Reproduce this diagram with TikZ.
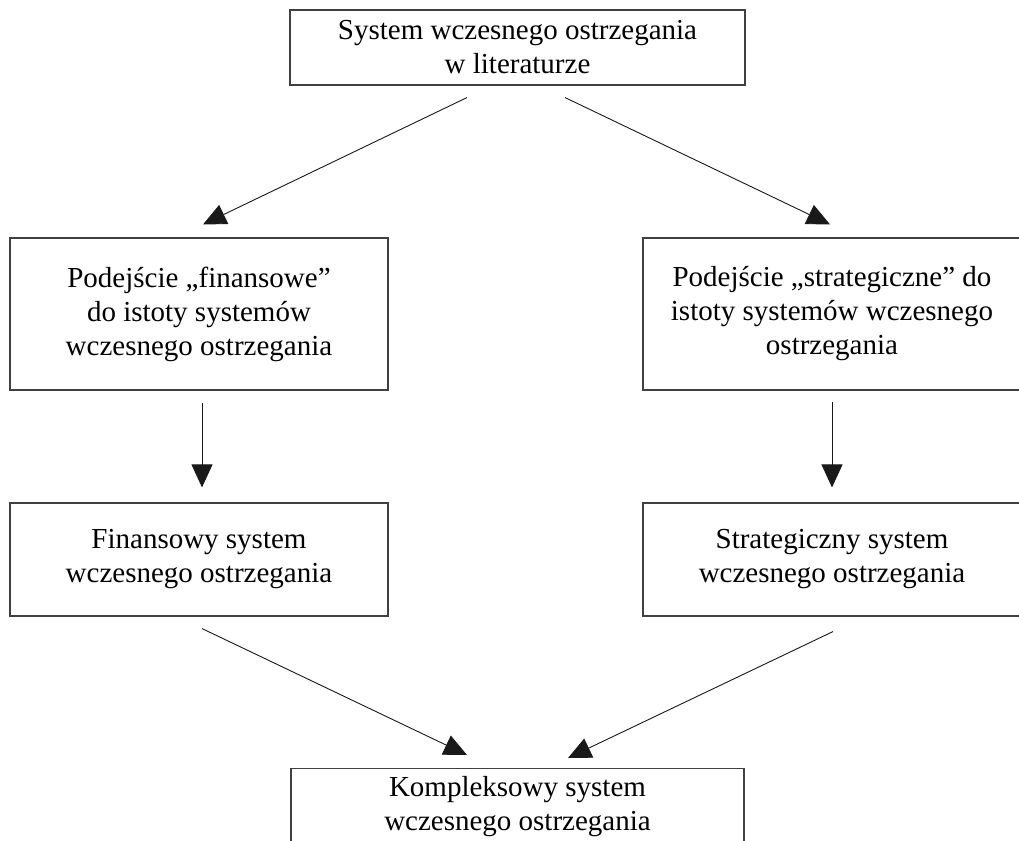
\documentclass[tikz,border=0pt]{standalone}
\usepackage{fontspec}
\setmainfont{Liberation Serif}
\usetikzlibrary{arrows.meta}
\tikzset{
  box/.style={draw=black!75, line width=1.1pt, rectangle, align=center,
    inner sep=0pt, font=\fontsize{29}{34}\selectfont},
  arr/.style={draw=black!90, line width=0.9pt,
    -{Triangle[length=23pt,width=21pt]}}
}
\begin{document}
\begin{tikzpicture}[x=1pt,y=-1pt]
\useasboundingbox (0,0) rectangle (1019,840);
\node[box, minimum width=455pt, minimum height=75pt] (top) at (517.5,47.5)
  {System wczesnego ostrzegania\\w literaturze};
\node[box, minimum width=378pt, minimum height=152pt] (L1) at (199,314)
  {Podejście „finansowe”\\do istoty systemów\\wczesnego ostrzegania};
\node[box, minimum width=378pt, minimum height=152pt] (R1) at (832,314)
  {Podejście „strategiczne” do\\istoty systemów wczesnego\\ostrzegania};
\node[box, minimum width=378pt, minimum height=113pt] (L2) at (199,559.5)
  {Finansowy system\\wczesnego ostrzegania};
\node[box, minimum width=378pt, minimum height=113pt] (R2) at (832,559.5)
  {Strategiczny system\\wczesnego ostrzegania};
\node[box, minimum width=453pt, anchor=north, inner ysep=8pt] (B) at (517.5,768)
  {Kompleksowy system\\wczesnego ostrzegania};

\draw[arr] ([xshift=-50.5pt,yshift=-12pt]top.south) -- ([xshift=4pt,yshift=13pt]L1.north);
\draw[arr] ([xshift=47.5pt,yshift=-12pt]top.south) -- ([xshift=-2pt,yshift=13pt]R1.north);
\draw[arr] ([xshift=3pt,yshift=-12pt]L1.south) -- ([xshift=3pt,yshift=15pt]L2.north);
\draw[arr] ([yshift=-11pt]R1.south) -- ([yshift=15pt]R2.north);
\draw[arr] ([xshift=3pt,yshift=-12pt]L2.south) -- ([xshift=-50.5pt,yshift=13pt]B.north);
\draw[arr] ([xshift=1pt,yshift=-15pt]R2.south) -- ([xshift=50.5pt,yshift=10pt]B.north);
\end{tikzpicture}
\end{document}
